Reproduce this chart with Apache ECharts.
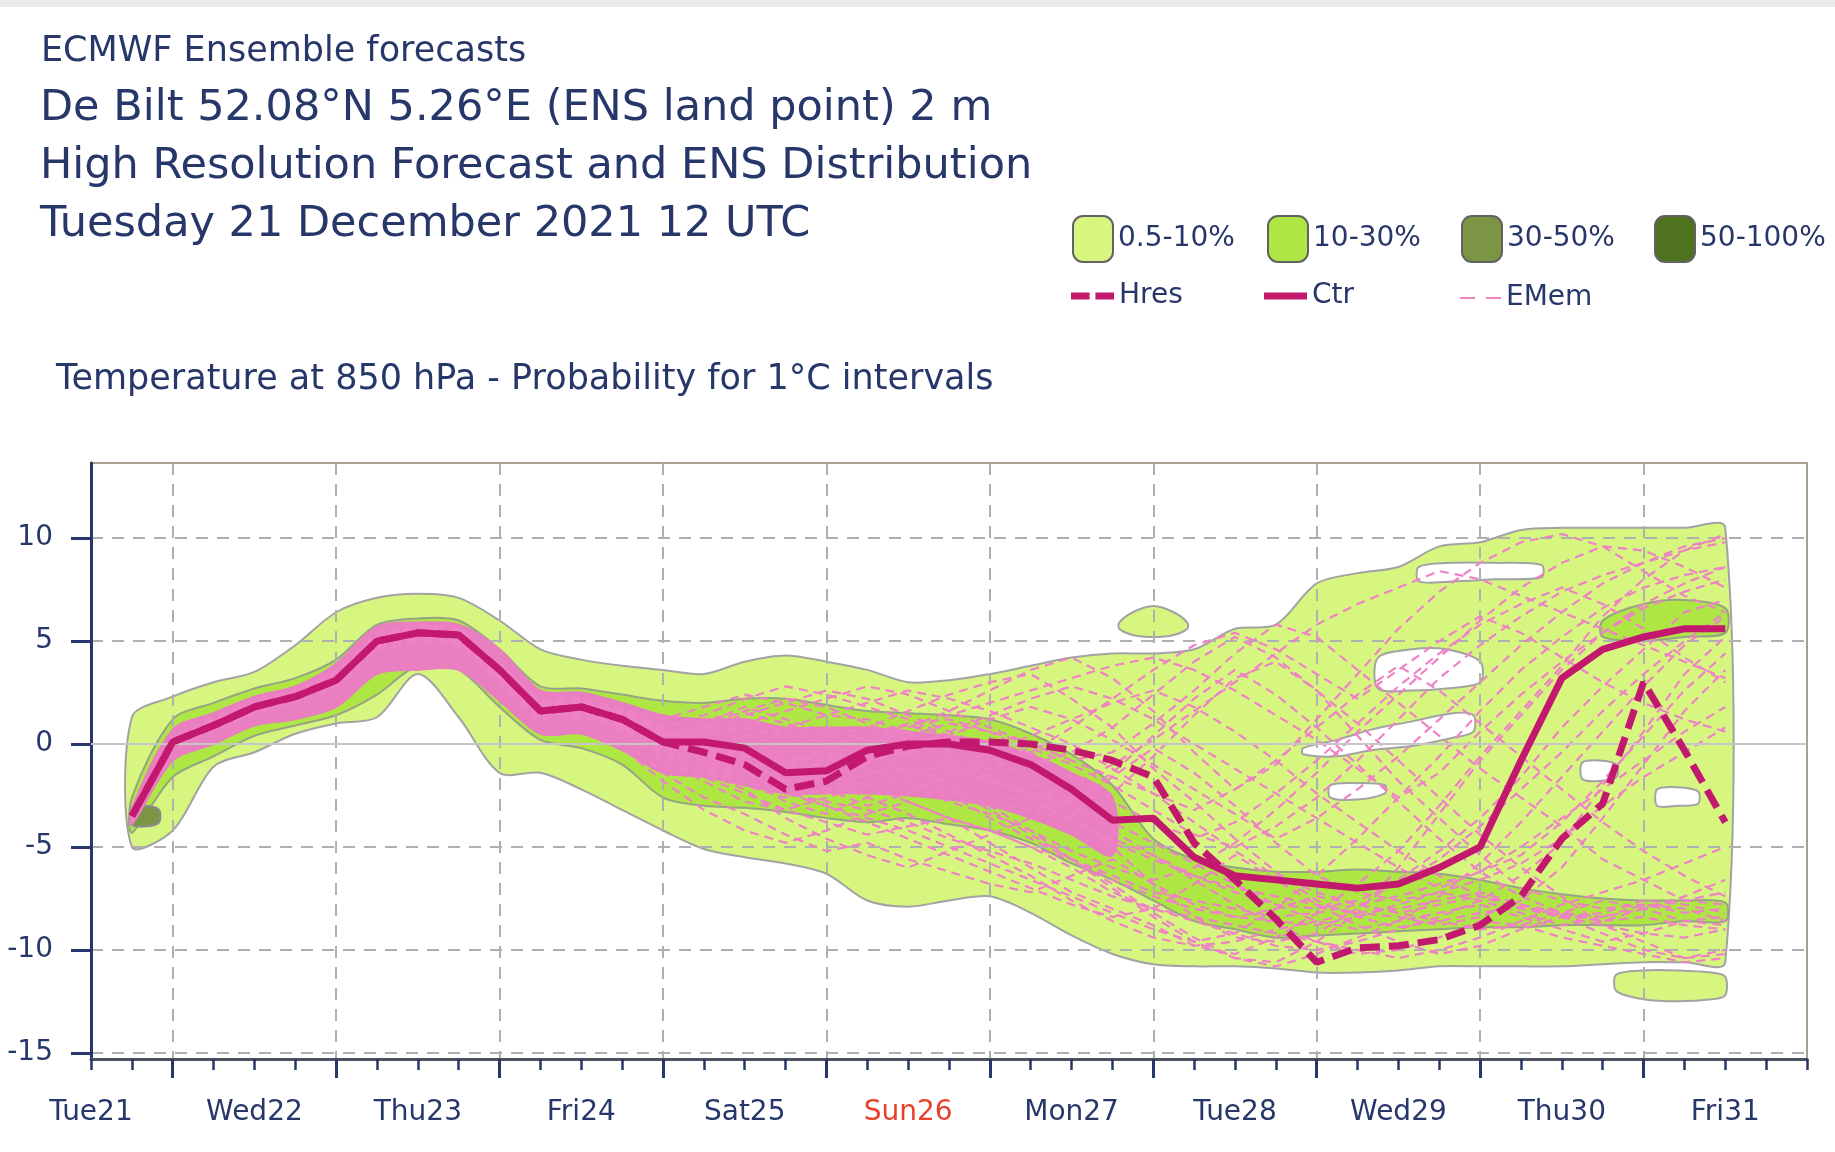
<!DOCTYPE html>
<html>
<head>
<meta charset="utf-8">
<title>ECMWF ENS distribution - De Bilt T850</title>
<script src="https://cdn.jsdelivr.net/npm/echarts@6/dist/echarts.min.js"></script>
<style>
  html, body { margin: 0; padding: 0; background: #ffffff; }
  #chart { width: 1835px; height: 1152px; }
</style>
</head>
<body>
<div id="chart"></div>
<script>
// forecast steps (hours from Tue21 12 UTC)
const hours = [6, 12, 18, 24, 30, 36, 42, 48, 54, 60, 66, 72, 78, 84, 90, 96, 102, 108, 114, 120,
  126, 132, 138, 144, 150, 156, 162, 168, 174, 180, 186, 192, 198, 204, 210, 216, 222, 228, 234, 240];

const dayLabels = ['Tue21', 'Wed22', 'Thu23', 'Fri24', 'Sat25', 'Sun26', 'Mon27', 'Tue28', 'Wed29', 'Thu30', 'Fri31'];
const dayTicks = [0, 24, 48, 72, 96, 120, 144, 168, 192, 216, 240];
const midnightTicks = [12, 36, 60, 84, 108, 132, 156, 180, 204, 228];
const tempTicks = [-15, -10, -5, 0, 5, 10];

// control and high resolution runs
const ctr = [-3.5, 0.1, 0.9, 1.8, 2.3, 3.1, 5.0, 5.4, 5.3, 3.6, 1.6, 1.8, 1.2, 0.1, 0.1, -0.2, -1.4, -1.3, -0.3, 0.0,
  0.0, -0.3, -1.0, -2.2, -3.7, -3.6, -5.5, -6.4, -6.6, -6.8, -7.0, -6.8, -6.0, -5.0, -0.8, 3.2, 4.6, 5.2, 5.6, 5.6];
const hres = [-3.5, 0.1, 0.9, 1.8, 2.3, 3.1, 5.0, 5.4, 5.3, 3.6, 1.6, 1.8, 1.2, 0.1, -0.4, -1.0, -2.2, -1.8, -0.6, -0.1,
  0.1, 0.1, 0.0, -0.3, -0.8, -1.6, -4.8, -6.6, -8.5, -10.6, -9.9, -9.8, -9.5, -8.8, -7.4, -4.6, -2.9, 3.0, -0.3, -3.8];

// a selection of ensemble members
const emem = [
  [-3.2, 0.4, 1.3, 2.2, 2.6, 3.6, 5.4, 5.8, 5.6, 4.0, 2.0, 2.2, 1.6, 0.9, 1.2, 1.5, 1.0, 0.4, 0.8, 1.6, 2.4, 3.0, 3.4, 2.2, 0.8, -1.2, -2.8, -4.6, -6.2, -7.6, -8.4, -8.9, -8.6, -8.2, -7.9, -8.3, -8.6, -8.4, -8.8, -9.0],
  [-3.8, -0.3, 0.6, 1.5, 2.0, 2.7, 4.5, 5.0, 4.9, 3.1, 1.2, 1.4, 0.6, -0.8, -1.6, -2.4, -3.2, -3.8, -4.4, -4.0, -3.6, -4.2, -5.0, -6.0, -7.2, -8.0, -8.6, -9.2, -9.8, -10.0, -9.6, -9.0, -8.4, -7.6, -6.4, -4.8, -2.0, 0.6, 3.4, 5.2],
  [-3.4, 0.2, 1.0, 2.0, 2.5, 3.4, 5.2, 5.5, 5.0, 3.2, 1.4, 1.6, 0.8, -0.4, -0.6, -1.2, -2.0, -2.4, -1.8, -1.0, -1.4, -2.2, -3.0, -3.6, -2.4, -0.6, 1.4, 3.2, 4.0, 2.6, 0.4, -1.8, -3.6, -5.4, -7.0, -7.6, -8.0, -7.8, -8.2, -8.0],
  [-3.6, 0.0, 0.8, 1.7, 2.2, 3.0, 4.8, 5.6, 5.4, 3.8, 1.8, 2.0, 1.4, 0.6, 0.2, -0.6, -1.0, -0.2, 0.6, 0.9, 0.4, -0.6, -1.8, -3.4, -5.0, -6.8, -8.4, -9.4, -9.6, -9.2, -8.0, -6.6, -5.2, -3.6, -1.6, 0.8, 2.8, 4.6, 6.4, 7.0],
  [-3.3, 0.3, 1.2, 2.1, 2.4, 3.3, 5.1, 5.2, 5.0, 3.4, 1.4, 1.2, 0.2, -1.4, -2.6, -3.4, -4.4, -5.2, -4.8, -5.6, -6.2, -6.8, -7.2, -6.4, -5.6, -6.8, -7.8, -8.4, -8.0, -7.4, -7.8, -8.2, -8.6, -9.0, -8.8, -8.2, -7.6, -8.0, -8.6, -8.4],
  [-3.7, -0.1, 0.7, 1.6, 2.1, 2.9, 4.6, 5.1, 5.2, 3.5, 1.7, 1.9, 1.3, 0.4, 0.6, 0.2, -0.6, -0.8, -0.2, 0.4, 1.0, 0.6, 0.0, -0.8, -0.4, 1.0, 2.6, 4.4, 5.8, 5.2, 3.6, 2.0, 0.4, -1.2, -2.6, -4.0, -5.6, -6.6, -7.6, -7.2],
  [-3.5, 0.1, 1.0, 1.9, 2.4, 3.2, 5.0, 5.3, 5.1, 3.3, 1.5, 1.6, 0.9, -0.2, -0.8, -1.6, -2.8, -3.4, -2.6, -1.8, -2.4, -3.6, -4.6, -5.6, -6.8, -8.2, -9.4, -10.4, -10.6, -9.6, -8.2, -6.0, -3.4, -0.8, 1.4, 3.6, 5.4, 6.8, 7.8, 8.6],
  [-3.4, 0.2, 1.1, 2.0, 2.2, 3.0, 4.9, 5.4, 5.4, 3.7, 1.7, 1.7, 1.0, 0.2, 0.4, 0.8, 0.4, -0.4, -1.2, -2.0, -2.8, -3.4, -4.2, -5.2, -6.0, -6.6, -6.0, -4.8, -3.2, -1.4, 0.6, 2.4, 4.2, 6.0, 7.6, 8.8, 9.6, 9.4, 8.6, 7.6],
  [-3.6, 0.0, 0.9, 1.8, 2.3, 3.1, 5.1, 5.4, 5.2, 3.6, 1.6, 1.8, 1.1, 0.0, -0.2, -0.8, -1.8, -1.6, -0.8, -0.4, -0.8, -1.6, -2.6, -3.8, -4.8, -5.6, -6.4, -7.0, -7.4, -7.8, -8.2, -8.0, -7.6, -7.2, -7.8, -8.4, -8.2, -7.6, -7.8, -8.2],
  [-3.5, 0.2, 0.9, 1.7, 2.2, 3.0, 4.7, 5.1, 5.0, 3.2, 1.3, 1.5, 0.7, -0.6, -1.2, -2.0, -2.6, -2.2, -1.4, -1.2, -1.8, -2.8, -3.2, -2.8, -1.6, -0.2, -1.4, -3.0, -4.8, -6.4, -7.2, -7.6, -7.2, -6.6, -5.8, -4.6, -3.0, -1.6, -0.4, 0.8],
  [-3.3, 0.4, 1.2, 2.1, 2.6, 3.5, 5.3, 5.7, 5.6, 3.9, 2.1, 2.3, 1.7, 1.2, 1.8, 2.4, 2.0, 1.4, 1.2, 0.6, -0.4, -1.6, -2.6, -3.8, -4.6, -5.4, -6.6, -7.8, -8.8, -9.6, -10.2, -10.0, -9.4, -8.6, -8.8, -9.4, -9.8, -10.2, -10.6, -10.4],
  [-3.7, -0.2, 0.7, 1.6, 2.0, 2.8, 4.6, 5.0, 4.8, 3.0, 1.0, 0.8, -0.2, -1.8, -3.2, -4.2, -4.8, -4.2, -3.4, -2.8, -3.6, -4.8, -6.0, -7.2, -8.0, -8.8, -9.8, -10.2, -9.4, -8.2, -6.8, -5.2, -3.0, -0.6, 1.6, 3.8, 6.2, 8.0, 9.4, 10.2],
  [-3.4, 0.1, 1.0, 1.9, 2.5, 3.2, 5.0, 5.3, 5.2, 3.5, 1.6, 1.7, 1.1, 0.3, 0.8, 1.4, 2.0, 2.6, 2.2, 1.4, 0.6, -0.2, -1.0, -0.4, 0.8, 2.4, 4.0, 5.2, 4.2, 2.6, 1.0, -0.8, -2.6, -4.4, -6.0, -7.4, -8.8, -9.6, -10.4, -10.0],
  [-3.6, 0.0, 0.8, 1.8, 2.3, 3.1, 4.9, 5.3, 5.1, 3.4, 1.5, 1.7, 1.0, -0.4, -1.0, -0.6, -1.0, -1.8, -2.6, -3.4, -4.4, -5.4, -6.4, -7.6, -8.6, -9.4, -9.8, -9.6, -9.0, -8.6, -8.2, -8.4, -8.8, -8.4, -7.6, -6.0, -3.6, -1.0, 1.6, 3.6],
  [-3.5, 0.0, 1.0, 1.9, 2.3, 3.2, 5.1, 5.4, 5.2, 3.5, 1.5, 1.7, 1.0, 0.2, -0.4, -1.0, -1.6, -0.8, 0.2, 0.8, 1.6, 2.6, 3.6, 4.2, 3.2, 1.6, -0.4, -2.2, -1.0, 1.2, 3.4, 5.6, 7.4, 8.8, 9.8, 10.2, 9.6, 8.4, 7.2, 6.4],
  [-3.4, 0.3, 1.1, 2.0, 2.4, 3.3, 5.2, 5.6, 5.5, 3.8, 1.9, 2.1, 1.4, 0.6, 0.0, -1.4, -2.4, -3.0, -3.8, -4.6, -5.4, -6.2, -7.0, -7.8, -8.4, -8.0, -6.8, -5.4, -6.6, -7.8, -8.8, -9.6, -10.2, -9.8, -9.0, -8.4, -9.2, -10.0, -10.4, -10.2],
  [-3.6, -0.1, 0.8, 1.7, 2.1, 2.9, 4.8, 5.2, 5.0, 3.3, 1.4, 1.5, 0.8, -0.6, -1.4, -2.2, -3.6, -4.6, -5.4, -6.0, -5.2, -4.4, -3.6, -2.6, -1.4, 0.4, 2.2, 3.6, 2.4, 0.8, -1.0, -2.8, -4.6, -6.2, -7.4, -8.2, -8.6, -8.0, -7.4, -6.6],
  [-3.5, 0.2, 1.0, 1.9, 2.3, 3.1, 5.0, 5.3, 5.3, 3.6, 1.6, 1.9, 1.2, 0.4, 1.0, 1.8, 1.2, 0.6, -0.4, -1.2, -2.0, -3.0, -4.2, -5.6, -7.0, -8.4, -9.6, -10.4, -10.8, -10.2, -9.4, -8.6, -7.4, -5.8, -3.8, -1.6, 0.6, 2.8, 4.8, 6.2],
  [-3.3, 0.2, 1.1, 2.0, 2.5, 3.4, 5.2, 5.5, 5.3, 3.7, 1.8, 2.0, 1.3, 0.3, -0.2, 0.4, 0.8, 1.4, 2.0, 2.6, 2.2, 1.6, 0.8, 0.0, -1.2, -2.4, -3.8, -5.2, -6.4, -7.2, -7.8, -8.2, -7.8, -7.4, -7.8, -8.2, -8.4, -8.0, -7.6, -7.8],
  [-3.6, 0.0, 0.9, 1.8, 2.2, 3.0, 4.9, 5.3, 5.2, 3.4, 1.5, 1.6, 0.9, -0.2, -0.6, -0.4, -1.2, -2.2, -3.0, -2.4, -1.6, -0.8, -0.2, -1.0, -2.0, -3.2, -4.4, -5.0, -4.0, -2.6, -0.8, 1.2, 3.2, 4.8, 6.2, 7.4, 8.2, 8.8, 9.4, 9.8],
  [-3.3, 0.3, 1.1, 2.0, 2.5, 3.3, 5.2, 5.6, 5.4, 3.8, 1.8, 2.0, 1.4, 0.5, 0.2, -0.2, -0.8, -1.4, -2.0, -2.8, -3.6, -4.2, -5.0, -5.6, -6.4, -7.2, -7.6, -8.0, -8.4, -8.2, -7.8, -7.4, -6.8, -6.2, -5.4, -3.8, -1.8, 0.4, 2.6, 4.4],
  [-3.6, -0.1, 0.8, 1.7, 2.2, 3.0, 4.8, 5.2, 5.1, 3.4, 1.4, 1.6, 0.9, -0.1, -0.3, 0.0, 0.4, 0.8, 0.2, -0.6, -1.2, -1.8, -2.4, -3.0, -3.8, -4.8, -5.8, -6.8, -7.8, -8.6, -9.0, -8.6, -8.2, -7.8, -8.4, -9.0, -9.6, -9.2, -8.6, -8.8],
  [-3.4, 0.2, 1.0, 1.9, 2.4, 3.2, 5.1, 5.5, 5.3, 3.6, 1.7, 1.8, 1.1, 0.1, -0.6, -1.4, -2.2, -3.0, -3.6, -4.2, -5.0, -5.8, -6.6, -7.4, -8.2, -9.0, -9.6, -9.2, -8.0, -6.4, -4.6, -2.6, -0.6, 1.6, 3.6, 5.2, 6.6, 7.6, 8.2, 8.6],
  [-3.5, 0.1, 0.9, 1.8, 2.3, 3.1, 5.0, 5.3, 5.2, 3.5, 1.6, 1.7, 1.0, 0.0, 0.6, 1.2, 0.6, 0.0, -0.6, -1.4, -2.2, -3.2, -4.4, -5.6, -6.6, -7.4, -8.0, -8.4, -8.6, -8.8, -8.4, -7.8, -7.2, -7.6, -8.2, -8.8, -8.4, -7.8, -8.0, -8.6],
  [-3.7, -0.2, 0.7, 1.6, 2.1, 2.9, 4.7, 5.1, 5.0, 3.3, 1.4, 1.5, 0.7, -0.8, -1.8, -2.8, -3.2, -2.6, -2.0, -1.6, -1.0, -0.4, 0.4, 1.2, 2.0, 2.6, 1.8, 0.6, -0.8, -2.4, -3.8, -5.2, -6.4, -7.4, -8.0, -8.4, -8.8, -9.2, -9.4, -9.0],
  [-3.3, 0.3, 1.2, 2.1, 2.5, 3.4, 5.3, 5.6, 5.5, 3.8, 1.9, 2.1, 1.5, 0.8, 1.4, 2.2, 2.8, 2.4, 1.8, 1.2, 0.4, -0.6, -1.8, -3.0, -4.2, -5.4, -6.4, -7.2, -7.8, -8.0, -7.6, -6.8, -5.6, -4.0, -2.2, -0.4, 1.6, 3.4, 5.0, 6.4],
  [-3.6, 0.0, 0.9, 1.8, 2.2, 3.0, 4.9, 5.3, 5.1, 3.5, 1.5, 1.6, 0.8, -0.4, -1.0, -1.8, -2.4, -2.8, -3.2, -3.8, -4.6, -5.2, -5.8, -6.6, -7.4, -8.0, -8.4, -8.8, -9.2, -9.6, -10.0, -10.4, -10.0, -9.4, -8.6, -7.8, -7.2, -6.6, -5.8, -5.0],
  [-3.4, 0.2, 1.0, 2.0, 2.4, 3.2, 5.1, 5.4, 5.3, 3.6, 1.7, 1.8, 1.1, 0.2, 0.0, -0.4, -1.0, -0.4, 0.4, 1.0, 1.2, 0.6, -0.4, -1.6, -2.8, -3.8, -4.6, -3.8, -2.4, -0.8, 1.0, 2.8, 4.4, 5.8, 6.8, 7.6, 6.8, 5.6, 4.2, 3.0],
  [-3.5, 0.1, 1.0, 1.9, 2.3, 3.2, 5.0, 5.4, 5.2, 3.5, 1.6, 1.7, 1.0, 0.3, 0.9, 1.6, 2.2, 1.8, 1.0, 0.2, -0.6, -1.2, -0.4, 0.8, 2.2, 3.6, 4.8, 5.4, 4.6, 3.4, 2.2, 3.6, 5.0, 6.2, 5.4, 4.2, 3.0, 2.0, 1.2, 0.6],
  [-3.4, 0.2, 1.1, 2.0, 2.4, 3.3, 5.1, 5.5, 5.4, 3.7, 1.8, 1.9, 1.2, 0.4, -0.2, -0.8, -1.2, -0.6, 0.0, 0.6, 1.4, 2.0, 2.6, 3.2, 3.8, 4.2, 3.6, 2.6, 1.4, 0.2, -1.2, -2.6, -1.4, 0.6, 2.4, 4.0, 5.4, 6.6, 7.4, 8.0],
  [-3.6, 0.0, 0.9, 1.8, 2.2, 3.0, 4.9, 5.3, 5.1, 3.4, 1.5, 1.6, 0.9, -0.2, -0.8, -1.4, -1.0, -0.2, 0.4, -0.2, -1.0, -1.8, -2.6, -2.0, -1.0, 0.2, 1.6, 3.0, 4.4, 5.8, 6.8, 7.6, 8.4, 8.0, 7.2, 6.4, 5.6, 4.8, 4.0, 3.2],
  [-3.5, 0.1, 0.9, 1.8, 2.3, 3.1, 5.0, 5.3, 5.2, 3.5, 1.6, 1.7, 1.0, 0.0, 0.4, 1.0, 1.6, 2.2, 2.8, 2.4, 1.6, 0.8, 0.0, -0.8, -1.6, -2.4, -3.2, -2.2, -0.8, 0.8, 2.4, 3.8, 2.6, 1.0, -0.6, -2.2, -3.8, -5.2, -6.4, -7.4],
  [-3.3, 0.3, 1.2, 2.1, 2.5, 3.4, 5.2, 5.6, 5.4, 3.8, 1.9, 2.0, 1.3, 0.6, 0.2, -0.4, -1.0, -1.6, -1.2, -0.4, 0.4, 1.2, 1.8, 1.2, 0.2, -1.0, -2.2, -3.4, -4.6, -3.6, -2.2, -0.6, 1.2, 3.0, 4.8, 6.4, 7.8, 8.8, 9.6, 10.0],
  [-3.7, -0.1, 0.8, 1.7, 2.1, 2.9, 4.8, 5.2, 5.0, 3.3, 1.4, 1.5, 0.8, -0.5, -1.2, -1.8, -2.4, -1.8, -1.0, -0.2, 0.6, 1.4, 2.2, 2.8, 2.2, 1.2, 0.0, -1.2, -2.4, -3.6, -4.8, -6.0, -7.0, -6.2, -5.0, -3.6, -2.2, -0.8, 0.6, 1.8]
];

// probability 0.5-10% envelope
const envLo = [-5.0, -4.2, -1.1, -0.4, 0.5, 1.0, 1.3, 3.4, 1.3, -1.4, -1.4, -2.2, -3.2, -4.2, -5.1, -5.5, -5.8, -6.3, -7.6, -7.9,
  -7.6, -7.4, -8.2, -9.3, -10.2, -10.7, -10.8, -10.8, -10.9, -11.1, -11.1, -11.0, -10.8, -10.8, -10.8, -10.8, -10.7, -10.6, -10.6, -10.6];
const envHi = [1.3, 2.3, 3.0, 3.5, 4.8, 6.4, 7.1, 7.3, 7.1, 6.0, 4.6, 4.1, 3.8, 3.6, 3.4, 4.0, 4.3, 4.0, 3.6, 3.0,
  3.1, 3.4, 3.8, 4.2, 4.4, 4.4, 4.6, 5.6, 5.8, 7.8, 8.3, 8.6, 9.6, 9.8, 10.4, 10.5, 10.5, 10.5, 10.5, 10.5];
// separate 0.5-10% islands
const islandTopT = [151, 153, 156, 159, 161];
const islandTopLo = [5.6, 5.3, 5.2, 5.3, 5.6];
const islandTopHi = [5.9, 6.4, 6.7, 6.4, 5.9];
const islandLowT = [224, 228, 233, 238, 240];
const islandLowLo = [-12.0, -12.4, -12.5, -12.4, -12.2];
const islandLowHi = [-11.2, -11.0, -11.0, -11.1, -11.3];
// gaps (below 0.5%) inside the envelope
const holeAT = [189, 194, 199, 204];
const holeALo = [2.7, 2.6, 2.7, 3.0];
const holeAHi = [4.2, 4.6, 4.6, 4.0];
const holeBT = [178, 183, 188, 194, 200, 203];
const holeBLo = [-0.5, -0.6, -0.3, -0.1, 0.3, 0.6];
const holeBHi = [-0.2, 0.2, 0.7, 1.1, 1.5, 1.4];
const holeCT = [182, 186, 190];
const holeCLo = [-2.6, -2.7, -2.4];
const holeCHi = [-2.0, -1.9, -2.0];
const holeDT = [219, 221.5, 224];
const holeDLo = [-1.7, -1.8, -1.6];
const holeDHi = [-0.9, -0.8, -1.0];
const holeET = [230, 233, 236];
const holeELo = [-3.0, -3.0, -2.9];
const holeEHi = [-2.2, -2.1, -2.3];
const holeFT = [195, 200, 206, 213];
const holeFLo = [7.9, 7.9, 8.0, 8.1];
const holeFHi = [8.6, 8.8, 8.8, 8.7];

// probability 10-30%
const p10Lo = [-4.3, -1.6, -0.6, 0.4, 0.9, 1.4, 2.4, 3.8, 3.6, 1.8, 0.2, -0.2, -1.0, -2.6, -3.0, -3.1, -3.3, -3.6, -3.8, -3.6,
  -3.9, -4.2, -4.8, -5.8, -6.6, -7.6, -8.6, -9.0, -9.4, -9.3, -9.2, -9.1, -9.0, -8.9, -8.9, -8.8, -8.8, -8.8, -8.6, -8.6];
const p10Hi = [-2.6, 1.2, 2.0, 2.7, 3.2, 4.1, 5.8, 6.1, 6.0, 4.6, 2.8, 2.7, 2.4, 2.1, 2.0, 2.2, 2.2, 1.9, 1.6, 1.5,
  1.4, 1.2, 0.5, -0.5, -2.0, -4.6, -5.6, -6.0, -6.2, -6.2, -6.1, -6.2, -6.3, -6.6, -7.0, -7.3, -7.5, -7.6, -7.6, -7.7];
const p10TopT = [222, 228, 234, 240];
const p10TopLo = [5.2, 5.0, 5.2, 5.4];
const p10TopHi = [6.0, 6.8, 7.0, 6.6];

// probability 30-50%
const p30T = [6, 8, 10];
const p30Lo = [-3.9, -4.0, -3.8];
const p30Hi = [-3.1, -3.0, -3.2];

// densest part of the member plume (first 150 h)
const coreLo = [-3.9, -0.8, 0.0, 0.9, 1.2, 1.8, 3.4, 3.6, 3.6, 2.1, 0.5, 0.5, -0.3, -1.4, -1.6, -2.0, -2.4, -2.4, -2.4, -2.5,
  -2.7, -3.0, -3.6, -4.4, -5.4];
const coreHi = [-3.1, 0.7, 1.5, 2.3, 2.8, 3.9, 5.7, 5.9, 5.8, 4.6, 2.6, 2.5, 2.0, 1.4, 1.2, 1.2, 0.8, 0.8, 0.8, 0.6,
  0.4, 0.1, -0.5, -1.4, -2.6];

const probClasses = ['0.5-10%', '10-30%', '30-50%', '50-100%'];
const probColors = ['#d7f680', '#aee744', '#7b9545', '#4f721f'];
const probLegendLeft = [1072, 1267, 1461, 1654];

const FONT = 'DejaVu Sans';
const NAVY = '#28376a';
const RUN_COLOR = '#c2186e';
const MEMBER_COLOR = '#ee82c5';

const dom = document.getElementById('chart');
const chart = echarts.init(dom);

function asPoints(arr) {
  return hours.map((h, i) => [h, arr[i]]);
}

// draws closed bands (upper edge forwards, lower edge backwards)
function shadeSeries(name, shapes, fill, stroke, z) {
  return {
    name: name,
    type: 'custom',
    z: z,
    silent: true,
    itemStyle: { color: fill },
    renderItem: function (params, api) {
      const s = shapes[params.dataIndex];
      const upper = s.t.map((t, i) => api.coord([t, s.hi[i]]));
      const lower = s.t.map((t, i) => api.coord([t, s.lo[i]])).reverse();
      return {
        type: 'polygon',
        shape: { points: upper.concat(lower), smooth: 0.3 },
        style: {
          fill: s.hole ? '#ffffff' : fill,
          stroke: stroke,
          lineWidth: 2
        }
      };
    },
    data: shapes.map(s => [s.t[0], s.lo[0]])
  };
}

const shapes05 = [
  { t: hours, lo: envLo, hi: envHi },
  { t: islandTopT, lo: islandTopLo, hi: islandTopHi },
  { t: islandLowT, lo: islandLowLo, hi: islandLowHi },
  { t: holeAT, lo: holeALo, hi: holeAHi, hole: true },
  { t: holeBT, lo: holeBLo, hi: holeBHi, hole: true },
  { t: holeCT, lo: holeCLo, hi: holeCHi, hole: true },
  { t: holeDT, lo: holeDLo, hi: holeDHi, hole: true },
  { t: holeET, lo: holeELo, hi: holeEHi, hole: true },
  { t: holeFT, lo: holeFLo, hi: holeFHi, hole: true }
];
const shapes10 = [
  { t: hours, lo: p10Lo, hi: p10Hi },
  { t: p10TopT, lo: p10TopLo, hi: p10TopHi }
];
const shapes30 = [{ t: p30T, lo: p30Lo, hi: p30Hi }];
const shapesCore = [{ t: hours.slice(0, coreLo.length), lo: coreLo, hi: coreHi }];

const series = [
  shadeSeries('0.5-10%', shapes05, probColors[0], '#a3a3a3', 1),
  shadeSeries('10-30%', shapes10, probColors[1], '#97a386', 1),
  shadeSeries('30-50%', shapes30, probColors[2], '#8a8a8a', 1),
  shadeSeries('50-100%', [], probColors[3], '#8a8a8a', 1),
  {
    name: 'zero',
    type: 'line',
    data: [],
    z: 2,
    markLine: {
      silent: true,
      symbol: 'none',
      label: { show: false },
      lineStyle: { color: '#c6c6c6', width: 2, type: 'solid' },
      data: [{ yAxis: 0 }]
    }
  }
];

emem.forEach(m => {
  series.push({
    name: 'EMem',
    type: 'line',
    data: asPoints(m),
    symbol: 'none',
    z: 4,
    silent: true,
    itemStyle: { color: MEMBER_COLOR },
    lineStyle: { color: MEMBER_COLOR, width: 2.2, type: [9, 6] }
  });
});

series.push(shadeSeries('EMem density', shapesCore, '#e97ec1', '#e97ec1', 3));

series.push({
  name: 'Hres',
  type: 'line',
  data: asPoints(hres),
  symbol: 'none',
  z: 5,
  itemStyle: { color: RUN_COLOR },
  lineStyle: { color: RUN_COLOR, width: 7, type: [20, 9] }
});
series.push({
  name: 'Ctr',
  type: 'line',
  data: asPoints(ctr),
  symbol: 'none',
  z: 6,
  itemStyle: { color: RUN_COLOR },
  lineStyle: { color: RUN_COLOR, width: 7 }
});

const titleLines = [
  { text: 'ECMWF Ensemble forecasts', size: 35, lh: 40, left: 41, top: 32 },
  { text: 'De Bilt 52.08°N 5.26°E (ENS land point) 2 m', size: 43, lh: 50, left: 40, top: 84 },
  { text: 'High Resolution Forecast and ENS Distribution', size: 43, lh: 50, left: 40, top: 142 },
  { text: 'Tuesday 21 December 2021 12 UTC', size: 43, lh: 50, left: 40, top: 200 },
  { text: 'Temperature at 850 hPa - Probability for 1°C intervals', size: 35, lh: 40, left: 56, top: 360 }
];

const legendText = { fontFamily: FONT, fontSize: 28, color: NAVY };

// one legend component per entry, so the entries sit on a fixed pitch
const legends = probClasses.map((c, i) => ({
  data: [{ name: c, icon: 'roundRect', itemStyle: { color: probColors[i], borderColor: '#626262', borderWidth: 2 } }],
  left: probLegendLeft[i],
  top: 215,
  itemWidth: 40,
  itemHeight: 46,
  padding: 0,
  selectedMode: false,
  textStyle: legendText
}));
legends.push(
  {
    data: [{ name: 'Hres', icon: 'path://M0,0H19V7H0Z M25,0H44V7H25Z', itemStyle: { color: RUN_COLOR, borderWidth: 0 } }],
    left: 1071, top: 282, itemWidth: 43, itemHeight: 7, padding: 0, selectedMode: false, textStyle: legendText
  },
  {
    data: [{ name: 'Ctr', icon: 'rect', itemStyle: { color: RUN_COLOR, borderWidth: 0 } }],
    left: 1264, top: 282, itemWidth: 43, itemHeight: 7, padding: 0, selectedMode: false, textStyle: legendText
  },
  {
    data: [{ name: 'EMem', icon: 'path://M0,0H14V2H0Z M24,0H38V2H24Z', itemStyle: { color: MEMBER_COLOR, borderWidth: 0 } }],
    left: 1460, top: 284, itemWidth: 41, itemHeight: 3, padding: 0, selectedMode: false, textStyle: legendText
  }
);

const option = {
  animation: false,
  textStyle: { fontFamily: FONT },
  title: titleLines.map(t => ({
    text: t.text,
    left: t.left,
    top: t.top,
    padding: 0,
    textStyle: { fontFamily: FONT, fontSize: t.size, lineHeight: t.lh, fontWeight: 'normal', color: NAVY }
  })),
  graphic: [
    { type: 'rect', left: 0, top: 0, shape: { width: 1835, height: 7 }, style: { fill: '#ebebeb' }, silent: true }
  ],
  legend: legends,
  grid: {
    left: 91,
    top: 463,
    width: 1716,
    height: 596,
    show: true,
    borderColor: '#a99f90',
    borderWidth: 2,
    backgroundColor: 'transparent'
  },
  xAxis: [
    {
      type: 'value',
      min: 0,
      max: 252,
      interval: 6,
      z: 2,
      axisLine: { onZero: false, lineStyle: { color: '#4d5260', width: 3 } },
      axisTick: { length: 11, lineStyle: { color: NAVY, width: 2.5 } },
      axisLabel: {
        customValues: dayTicks,
        formatter: function (v) {
          const d = dayLabels[Math.round(v / 24)];
          return v === 120 ? '{sun|' + d + '}' : d;
        },
        fontFamily: FONT,
        fontSize: 28,
        lineHeight: 28,
        color: NAVY,
        margin: 40,
        rich: { sun: { color: '#e8402a', fontSize: 28, fontFamily: FONT } }
      },
      splitLine: { show: false }
    },
    {
      type: 'value',
      min: 0,
      max: 252,
      position: 'bottom',
      z: 2,
      axisLine: { show: false, onZero: false },
      axisTick: { customValues: midnightTicks, length: 19, lineStyle: { color: NAVY, width: 3 } },
      axisLabel: { show: false },
      splitLine: { show: true, lineStyle: { color: '#b0b0b0', width: 2, type: [12, 9] } }
    }
  ],
  yAxis: {
    type: 'value',
    min: -15.3,
    max: 13.65,
    z: 2,
    axisLine: { show: true, onZero: false, lineStyle: { color: NAVY, width: 3 } },
    axisTick: { show: true, customValues: tempTicks, length: 20, lineStyle: { color: NAVY, width: 3 } },
    axisLabel: { customValues: tempTicks, fontFamily: FONT, fontSize: 28, color: NAVY, margin: 38 },
    splitLine: { show: true, lineStyle: { color: '#b0b0b0', width: 2, type: [12, 9] } }
  },
  series: series
};

chart.setOption(option);
</script>
</body>
</html>
